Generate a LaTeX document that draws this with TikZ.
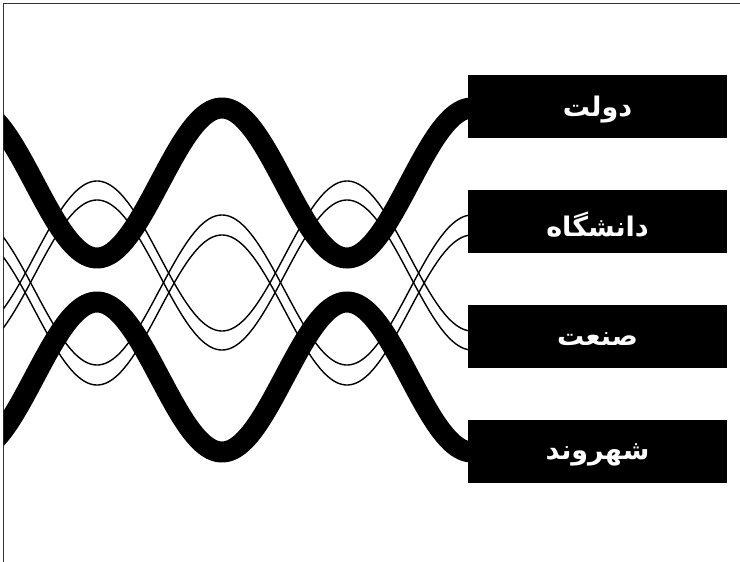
\documentclass[tikz,border=0pt]{standalone}
\usepackage{fontspec}
\newfontfamily\arabicfont[Script=Arabic]{DejaVu Sans Bold}
\TeXXeTstate=1
\newcommand{\boxlabel}[1]{\raisebox{-3pt}[\height][\depth]{\beginR #1\endR}}
\begin{document}
\begin{tikzpicture}[x=1pt,y=-1pt,
  thickwave/.style={line width=21pt,black},
  thinwave/.style={line width=1.4pt,black},
  labelbox/.style={fill=black,minimum width=259pt,minimum height=63pt,inner sep=0pt,
    text=white,font=\arabicfont\fontsize{27}{30}\selectfont},
  framerule/.style={draw=black!80,line width=1pt}]
\useasboundingbox (0,0) rectangle (740,562);
\draw[framerule] (3,562) -- (3,3) -- (740,3);
\begin{scope}
\clip (3.5,3.5) rectangle (740,562);
% thin waves (to daneshgah)
\draw[thinwave] plot[domain=-10:470,samples=240,smooth] (\x,{290-75*cos(1.44*(\x-472))});
\draw[thinwave] plot[domain=-10:470,samples=240,smooth] (\x,{310-75*cos(1.44*(\x-472))});
% thin waves (to sanat)
\draw[thinwave] plot[domain=-10:470,samples=240,smooth] (\x,{256+75*cos(1.44*(\x-472))});
\draw[thinwave] plot[domain=-10:470,samples=240,smooth] (\x,{275+75*cos(1.44*(\x-472))});
% thick waves
\draw[thickwave] plot[domain=-10:470,samples=240,smooth] (\x,{183-75*cos(1.44*(\x-472))});
\draw[thickwave] plot[domain=-10:470,samples=240,smooth] (\x,{377+75*cos(1.44*(\x-472))});
\end{scope}
\node[labelbox] (dowlat) at (597.5,106.5) {\boxlabel{دولت}};
\node[labelbox] (daneshgah) at (597.5,221.5) {\boxlabel{دانشگاه}};
\node[labelbox] (sanat) at (597.5,336.5) {\boxlabel{صنعت}};
\node[labelbox] (shahrvand) at (597.5,451.5) {\boxlabel{شهروند}};
\end{tikzpicture}
\end{document}
